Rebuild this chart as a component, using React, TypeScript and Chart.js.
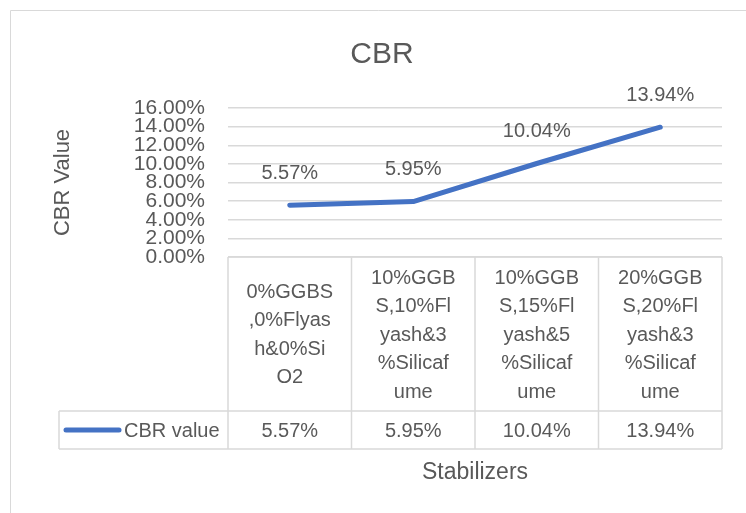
import React, { useEffect, useRef } from "react";
import { Chart, registerables } from "chart.js";

Chart.register(...registerables);

const chartTitle = "CBR";
const yAxisTitle = "CBR Value";
const xAxisTitle = "Stabilizers";
const seriesName = "CBR value";
const categoryLines: string[][] = [
  ["0%GGBS", ",0%Flyas", "h&0%Si", "O2"],
  ["10%GGB", "S,10%Fl", "yash&3", "%Silicaf", "ume"],
  ["10%GGB", "S,15%Fl", "yash&5", "%Silicaf", "ume"],
  ["20%GGB", "S,20%Fl", "yash&3", "%Silicaf", "ume"],
];
const cbrValues = [0.0557, 0.0595, 0.1004, 0.1394];
const yMin = 0;
const yMax = 0.16;
const yStep = 0.02;

const FONT = "'Liberation Sans', Arial, sans-serif";
const TEXT = "#595959";
const GRID = "#d9d9d9";
const BLUE = "#4472C4";

const fmt = (v: number) => (v * 100).toFixed(2) + "%";

const tablePlugin = {
  id: "excelTable",
  afterDraw(chart: any) {
    const ctx: CanvasRenderingContext2D = chart.ctx;
    const xs = chart.scales.x;
    const area = chart.chartArea;
    ctx.save();
    // outer chart border (top & left visible)
    ctx.strokeStyle = GRID;
    ctx.lineWidth = 1;
    ctx.beginPath();
    ctx.moveTo(10.5, chart.height);
    ctx.lineTo(10.5, 10.5);
    ctx.lineTo(chart.width, 10.5);
    ctx.stroke();

    // title
    ctx.fillStyle = TEXT;
    ctx.font = `30px ${FONT}`;
    ctx.textAlign = "center";
    ctx.textBaseline = "middle";
    ctx.fillText(chartTitle, 382, 55);

    // data labels
    const meta = chart.getDatasetMeta(0);
    ctx.font = `20px ${FONT}`;
    meta.data.forEach((pt: any, i: number) => {
      ctx.fillText(fmt(cbrValues[i]), pt.x, pt.y - 32);
    });

    // table geometry
    const n = categoryLines.length;
    const colW = (area.right - area.left) / n;
    const edges: number[] = [];
    for (let i = 0; i <= n; i++) edges.push(area.left + colW * i);
    const top = area.bottom;
    const rowSplit = top + 154;
    const bottom = rowSplit + 38;
    const legendLeft = 59;

    ctx.strokeStyle = GRID;
    ctx.lineWidth = 1.5;
    ctx.beginPath();
    ctx.moveTo(area.left, top);
    ctx.lineTo(area.right, top);
    ctx.moveTo(legendLeft, rowSplit);
    ctx.lineTo(area.right, rowSplit);
    ctx.moveTo(legendLeft, bottom);
    ctx.lineTo(area.right, bottom);
    ctx.moveTo(legendLeft, rowSplit);
    ctx.lineTo(legendLeft, bottom);
    edges.forEach((e) => {
      ctx.moveTo(e, top);
      ctx.lineTo(e, bottom);
    });
    ctx.stroke();

    // category labels
    ctx.fillStyle = TEXT;
    ctx.font = `20px ${FONT}`;
    const lh = 28.5;
    const midCat = (top + rowSplit) / 2 + 1;
    categoryLines.forEach((lines, i) => {
      const cx = xs.getPixelForValue(i);
      const start = midCat - ((lines.length - 1) * lh) / 2;
      lines.forEach((ln, j) => ctx.fillText(ln, cx, start + j * lh));
    });

    // values row
    const midVal = (rowSplit + bottom) / 2 + 1;
    cbrValues.forEach((v, i) => {
      ctx.fillText(fmt(v), xs.getPixelForValue(i), midVal);
    });

    // legend key
    ctx.strokeStyle = BLUE;
    ctx.lineWidth = 5;
    ctx.lineCap = "round";
    ctx.beginPath();
    ctx.moveTo(66, midVal - 1);
    ctx.lineTo(119, midVal - 1);
    ctx.stroke();
    ctx.textAlign = "left";
    ctx.fillText(seriesName, 124, midVal);
    ctx.restore();
  },
};

export default function App() {
  const ref = useRef<HTMLCanvasElement>(null);
  useEffect(() => {
    if (!ref.current) return;
    const chart = new Chart(ref.current, {
      type: "line",
      data: {
        labels: categoryLines.map((l) => l.join("")),
        datasets: [
          {
            label: seriesName,
            data: cbrValues,
            borderColor: BLUE,
            backgroundColor: BLUE,
            borderWidth: 5,
            borderCapStyle: "round",
            borderJoinStyle: "round",
            pointRadius: 0,
            tension: 0,
          },
        ],
      },
      options: {
        responsive: false,
        animation: false,
        layout: { padding: { top: 108, left: 0, right: 24, bottom: 0 } },
        plugins: {
          legend: { display: false },
          title: { display: false },
          tooltip: { enabled: false },
        },
        scales: {
          x: {
            type: "category",
            offset: true,
            grid: { display: false, drawTicks: false },
            border: { display: false },
            ticks: { display: false },
            title: {
              display: true,
              text: xAxisTitle,
              color: TEXT,
              font: { family: FONT, size: 23 },
              padding: { top: 0, bottom: 27 },
            },
            afterFit(scale: any) {
              scale.height = 256;
            },
          },
          y: {
            min: yMin,
            max: yMax,
            grid: { color: GRID, lineWidth: 1.5, drawTicks: false },
            border: { display: false },
            ticks: {
              stepSize: yStep,
              autoSkip: false,
              padding: 23,
              color: TEXT,
              font: { family: FONT, size: 21, lineHeight: 1 },
              callback: (v: any) => fmt(Number(v)),
            },
            title: {
              display: true,
              text: yAxisTitle,
              color: TEXT,
              font: { family: FONT, size: 22 },
              padding: { top: 50, bottom: 0 },
            },
            afterFit(scale: any) {
              scale.width = 228;
            },
          },
        },
      },
      plugins: [tablePlugin],
    });
    return () => chart.destroy();
  }, []);
  return (
    <div style={{ position: "fixed", left: 0, top: 0, width: 746, height: 513, background: "#fff" }}>
      <canvas ref={ref} width={746} height={513} style={{ display: "block" }} />
    </div>
  );
}
